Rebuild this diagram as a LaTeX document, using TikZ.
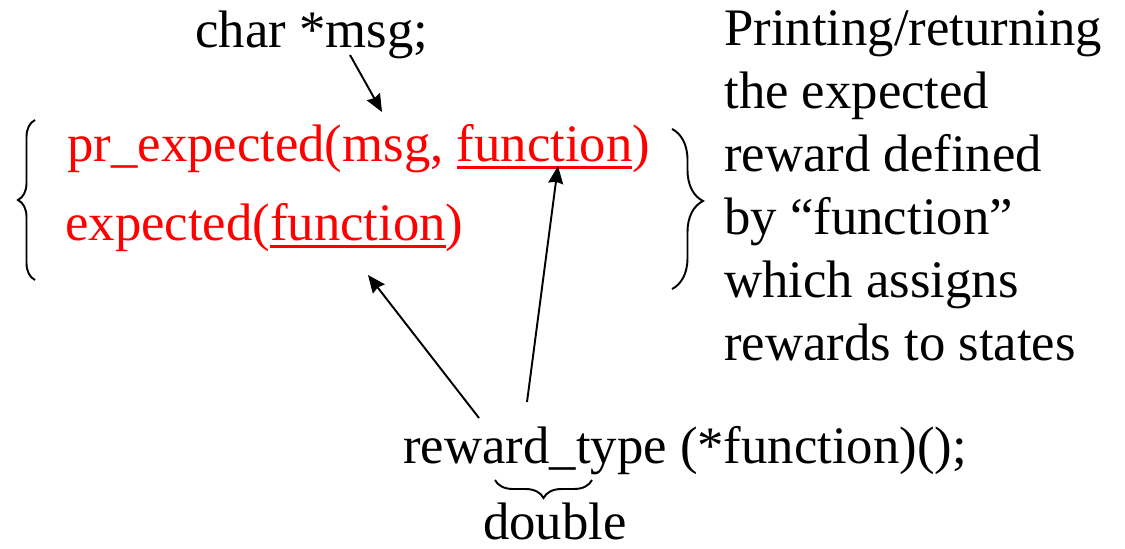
\documentclass[tikz,border=0pt]{standalone}
\usepackage{fontspec}
\setmainfont{Liberation Serif}
\usepackage{tikz}
\usetikzlibrary{positioning,arrows.meta,decorations.pathreplacing}
\newlength\fnwidth
\newcommand{\fnunder}[1]{\settowidth{\fnwidth}{#1}\rlap{\rule[-4.4pt]{\fnwidth}{1.6pt}}#1}
\tikzstyle{code} = [inner sep=0pt, anchor=base west, font=\fontsize{30}{36}\selectfont]
\tikzstyle{call} = [code, text=red]
\tikzstyle{note} = [inner sep=0pt, anchor=north west, align=left, font=\fontsize{30}{35.9}\selectfont]
\tikzstyle{arrow} = [line width=1.1pt, -{Stealth[length=10pt,width=8.5pt,inset=1pt]}]
\tikzstyle{curly} = [line width=1.1pt, decorate]

\begin{document}
\begin{tikzpicture}

	\useasboundingbox (0,0) rectangle (22.5,10.96);

	\node (decl) [code] at (3.9,10.0) {char *msg;};
	\node (prexp) [call] at (1.34,7.74) {pr\_expected(msg, \fnunder{function})};
	\node (exp) [call] at (1.30,6.16) {expected(\fnunder{function})};
	\node (note) [note] at (14.48,10.76) {Printing/returning\\the expected\\reward defined\\by “function”\\which assigns\\rewards to states};
	\node (rtype) [code] at (8.06,1.70) {reward\_type (*function)();};
	\node (dbl) [code, anchor=base] at (11.1,0.17) {double};

	\coordinate (msgtail) at (7.0,9.86);
	\coordinate (msghead) at (7.64,8.72);
	\coordinate (exptail) at (9.58,2.60);
	\coordinate (exphead) at (7.36,5.46);
	\coordinate (fntail) at (10.54,2.92);
	\coordinate (fnhead) at (11.16,7.64);

	\draw [curly, decoration={brace, amplitude=0.34cm}] (0.70,5.36) -- (0.70,8.56);
	\draw [curly, decoration={brace, amplitude=0.62cm, aspect=0.45}] (13.44,8.38) -- (13.44,5.18);
	\draw [curly, decoration={brace, amplitude=0.36cm}] (11.84,1.36) -- (9.90,1.36);

	\draw [arrow] (msgtail) -- (msghead);
	\draw [arrow] (exptail) -- (exphead);
	\draw [arrow] (fntail) -- (fnhead);

\end{tikzpicture}
\end{document}
